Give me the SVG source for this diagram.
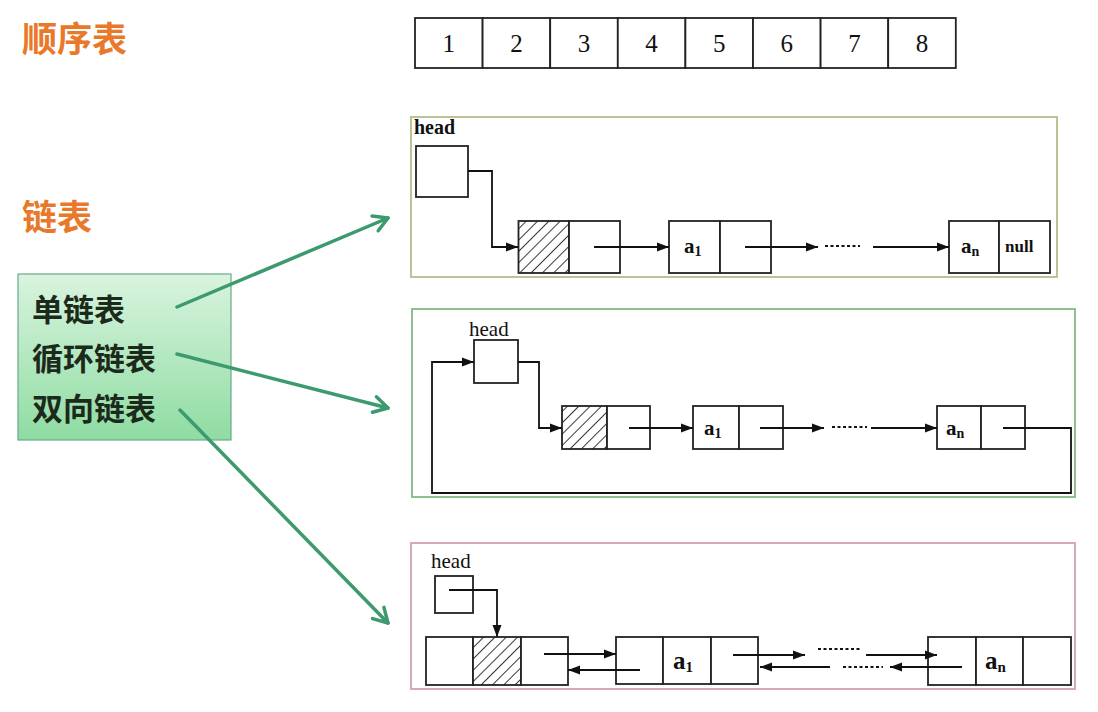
<svg xmlns="http://www.w3.org/2000/svg" width="1098" height="712" viewBox="0 0 1098 712">
<defs>
<style>
.title{font-family:"Noto Sans CJK SC","Noto Sans CJK JP",sans-serif;font-weight:bold;font-size:35px;fill:#e8782a}
.cat{font-family:"Noto Sans CJK SC","Noto Sans CJK JP",sans-serif;font-weight:bold;font-size:31px;fill:#1c2a1c}
.cell{fill:#fff;stroke:#222;stroke-width:1.8}
.num{font-family:"Liberation Serif",serif;font-size:25px;fill:#111;text-anchor:middle}
.lbl{font-family:"Liberation Serif",serif;font-size:21px;font-weight:bold;fill:#111}
.head{font-family:"Liberation Serif",serif;font-size:21px;fill:#111}
.ln{fill:none;stroke:#111;stroke-width:1.8}
.dots{fill:none;stroke:#111;stroke-width:2;stroke-dasharray:3 2.5}
.garrow{fill:none;stroke:#3d9a6e;stroke-width:3.5;stroke-linecap:round}
.sub{font-size:14px}
</style>
<marker id="ah" viewBox="0 0 12 10" refX="12" refY="5" markerWidth="12" markerHeight="10" markerUnits="userSpaceOnUse" orient="auto">
<path d="M0,0.5 L12,5 L0,9.5 Z" fill="#111"/>
</marker>
<marker id="gh" viewBox="0 0 20 20" refX="17" refY="10" markerWidth="20" markerHeight="20" markerUnits="userSpaceOnUse" orient="auto">
<path d="M3,2 L17,10 L3,18" fill="none" stroke="#3d9a6e" stroke-width="3.5" stroke-linecap="round" stroke-linejoin="round"/>
</marker>
<pattern id="hatch" patternUnits="userSpaceOnUse" width="8" height="8" patternTransform="rotate(45)">
<rect width="8" height="8" fill="#fff"/>
<line x1="0" y1="0" x2="0" y2="8" stroke="#222" stroke-width="1.8"/>
</pattern>
<linearGradient id="gg" x1="0" y1="0" x2="0" y2="1">
<stop offset="0" stop-color="#d9f4df"/>
<stop offset="1" stop-color="#8fdca2"/>
</linearGradient>
</defs>
<rect width="1098" height="712" fill="#fff"/>

<g id="title-seq">
<text class="title" x="22" y="52">顺序表</text>
</g>
<g id="title-link">
<text class="title" x="22" y="230">链表</text>
</g>

<g id="array">
<rect class="cell" x="415" y="18" width="67.6" height="50"/>
<rect class="cell" x="482.6" y="18" width="67.6" height="50"/>
<rect class="cell" x="550.2" y="18" width="67.6" height="50"/>
<rect class="cell" x="617.8" y="18" width="67.6" height="50"/>
<rect class="cell" x="685.4" y="18" width="67.6" height="50"/>
<rect class="cell" x="753" y="18" width="67.6" height="50"/>
<rect class="cell" x="820.6" y="18" width="67.6" height="50"/>
<rect class="cell" x="888.2" y="18" width="67.6" height="50"/>
<text class="num" x="448.8" y="52">1</text>
<text class="num" x="516.4" y="52">2</text>
<text class="num" x="584" y="52">3</text>
<text class="num" x="651.6" y="52">4</text>
<text class="num" x="719.2" y="52">5</text>
<text class="num" x="786.8" y="52">6</text>
<text class="num" x="854.4" y="52">7</text>
<text class="num" x="922" y="52">8</text>
</g>

<g id="category-box">
<rect x="18" y="274" width="213" height="166" fill="url(#gg)" stroke="#6aa98a" stroke-width="1.2"/>
<text class="cat" x="32" y="321">单链表</text>
<text class="cat" x="32" y="370">循环链表</text>
<text class="cat" x="32" y="420">双向链表</text>
</g>

<g id="panel-single">
<rect x="411" y="117" width="646" height="160" fill="#fff" stroke="#bcc496" stroke-width="2"/>
<text class="lbl" x="414" y="134" style="font-size:20px">head</text>
<rect class="cell" x="416" y="146" width="52" height="51"/>
<rect x="518.5" y="221" width="50.5" height="52" fill="url(#hatch)" stroke="#222" stroke-width="1.8"/>
<rect class="cell" x="569" y="221" width="51" height="52"/>
<rect class="cell" x="669" y="221" width="51" height="52"/>
<rect class="cell" x="720" y="221" width="51" height="52"/>
<text class="lbl" x="684" y="253">a<tspan class="sub" dy="3">1</tspan></text>
<rect class="cell" x="949" y="221" width="50" height="52"/>
<rect class="cell" x="999" y="221" width="51" height="52"/>
<text class="lbl" x="961" y="253">a<tspan class="sub" dy="3">n</tspan></text>
<text class="lbl" x="1005" y="252" style="font-size:17px">null</text>
</g>

<g id="panel-circular">
<rect x="412" y="309" width="663" height="188" fill="#fff" stroke="#8dbf8f" stroke-width="2"/>
<text class="head" x="469" y="336">head</text>
<rect class="cell" x="474" y="340" width="44" height="43"/>
<rect x="562" y="406" width="45" height="43" fill="url(#hatch)" stroke="#222" stroke-width="1.8"/>
<rect class="cell" x="607" y="406" width="43" height="43"/>
<rect class="cell" x="693" y="406" width="46" height="43"/>
<rect class="cell" x="739" y="406" width="44" height="43"/>
<text class="lbl" x="704" y="435">a<tspan class="sub" dy="3">1</tspan></text>
<rect class="cell" x="937" y="406" width="44" height="43"/>
<rect class="cell" x="981" y="406" width="44" height="43"/>
<text class="lbl" x="946" y="435">a<tspan class="sub" dy="3">n</tspan></text>
</g>

<g id="panel-double">
<rect x="411" y="543" width="664" height="146" fill="#fff" stroke="#d4aab3" stroke-width="2"/>
<text class="head" x="431" y="568">head</text>
<rect class="cell" x="435" y="576" width="38" height="37"/>
<rect class="cell" x="426" y="637" width="47" height="48"/>
<rect x="473" y="637" width="48" height="48" fill="url(#hatch)" stroke="#222" stroke-width="1.8"/>
<rect class="cell" x="521" y="637" width="47" height="48"/>
<rect class="cell" x="616" y="637" width="47" height="47"/>
<rect class="cell" x="663" y="637" width="48" height="47"/>
<rect class="cell" x="711" y="637" width="47" height="47"/>
<text class="lbl" x="673" y="669" style="font-size:25px">a<tspan class="sub" dy="3" style="font-size:15px">1</tspan></text>
<rect class="cell" x="928" y="637" width="48" height="48"/>
<rect class="cell" x="976" y="637" width="47" height="48"/>
<rect class="cell" x="1023" y="637" width="48" height="48"/>
<text class="lbl" x="985" y="669" style="font-size:25px">a<tspan class="sub" dy="3" style="font-size:15px">n</tspan></text>
</g>

<g id="connectors">
<path class="garrow" d="M177,307 L388,218" marker-end="url(#gh)"/>
<path class="garrow" d="M177,354 L388,408" marker-end="url(#gh)"/>
<path class="garrow" d="M180,410 L388,623" marker-end="url(#gh)"/>
<path class="ln" d="M468,171 H492 V247 H518" marker-end="url(#ah)"/>
<path class="ln" d="M594,247 H669" marker-end="url(#ah)"/>
<path class="ln" d="M745,247 H818" marker-end="url(#ah)"/>
<path class="dots" d="M825,246 H860"/>
<path class="ln" d="M873,247 H949" marker-end="url(#ah)"/>
<path class="ln" d="M518,362 H539 V428 H562" marker-end="url(#ah)"/>
<path class="ln" d="M629,428 H693" marker-end="url(#ah)"/>
<path class="ln" d="M760,428 H824" marker-end="url(#ah)"/>
<path class="dots" d="M832,427 H867"/>
<path class="ln" d="M871,428 H937" marker-end="url(#ah)"/>
<path class="ln" d="M1003,428 H1071 V493 H432 V362 H474" marker-end="url(#ah)"/>
<path class="ln" d="M449,590 H497 V637" marker-end="url(#ah)"/>
<path class="ln" d="M544,654 H616" marker-end="url(#ah)"/>
<path class="ln" d="M640,670 H568" marker-end="url(#ah)"/>
<path class="ln" d="M733,655 H805" marker-end="url(#ah)"/>
<path class="ln" d="M830,667 H760" marker-end="url(#ah)"/>
<path class="dots" d="M818,649 H860"/>
<path class="dots" d="M843,667 H883"/>
<path class="ln" d="M866,655 H937" marker-end="url(#ah)"/>
<path class="ln" d="M962,667 H890" marker-end="url(#ah)"/>
</g>
</svg>
